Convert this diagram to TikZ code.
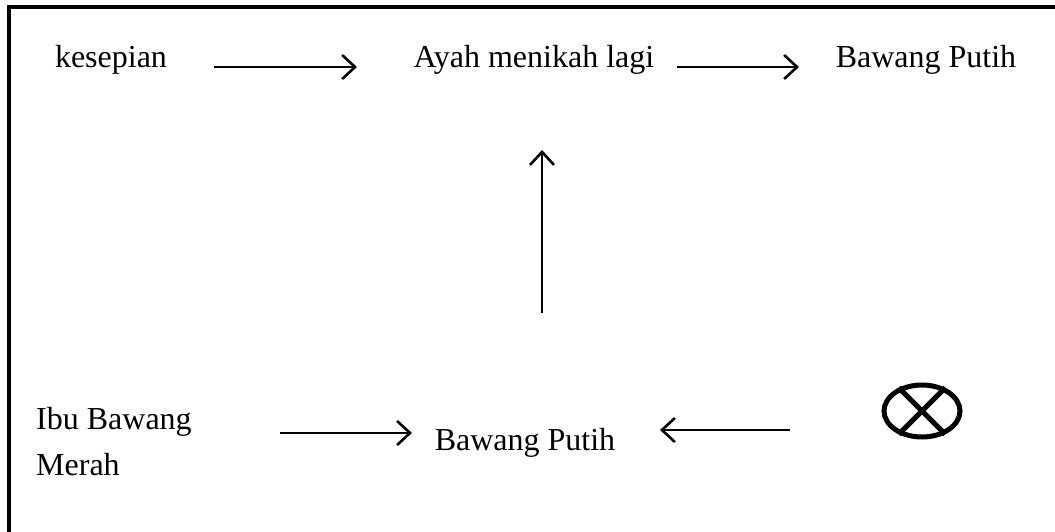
\documentclass[tikz,border=0pt]{standalone}
\usepackage{fontspec}
\setmainfont{Liberation Serif}
\usetikzlibrary{arrows.meta,shapes.geometric}
\begin{document}
\begin{tikzpicture}[x=1pt,y=-1pt,
  lbl/.style={font=\fontsize{32}{46}\selectfont, inner sep=0pt, anchor=base},
  conn/.style={line width=2.6pt, -{Straight Barb[length=13pt,width=24pt,line width=2.6pt]}}]
\useasboundingbox (0,0) rectangle (1055,532);
\draw[line width=4pt] (9,532) -- (9,7) -- (1055,7);
\node[lbl] (kes) at (111,68) {kesepian};
\node[lbl] (ayah) at (534,68) {Ayah menikah lagi};
\node[lbl] (bp1) at (926,68) {Bawang Putih};
\node[lbl, align=left, anchor=north west] (ibu) at (36,407) {Ibu Bawang\\Merah};
\node[lbl] (bp2) at (525,450) {Bawang Putih};
\node[draw, ellipse, line width=5pt, minimum width=76pt, minimum height=52pt, inner sep=0pt] (x) at (922,411) {};
\draw[line width=5pt] (x.135) -- (x.-45) (x.45) -- (x.-135);
\coordinate (a1s) at (214,67); \coordinate (a1e) at (357,67);
\coordinate (a2s) at (677,67); \coordinate (a2e) at (799,67);
\coordinate (a3s) at (542,313); \coordinate (a3e) at (542,150);
\coordinate (a4s) at (280,433); \coordinate (a4e) at (412,433);
\coordinate (a5s) at (790,430); \coordinate (a5e) at (660,430);
\draw[conn] (a1s) -- (a1e);
\draw[conn] (a2s) -- (a2e);
\draw[conn] (a3s) -- (a3e);
\draw[conn] (a4s) -- (a4e);
\draw[conn] (a5s) -- (a5e);
\end{tikzpicture}
\end{document}
